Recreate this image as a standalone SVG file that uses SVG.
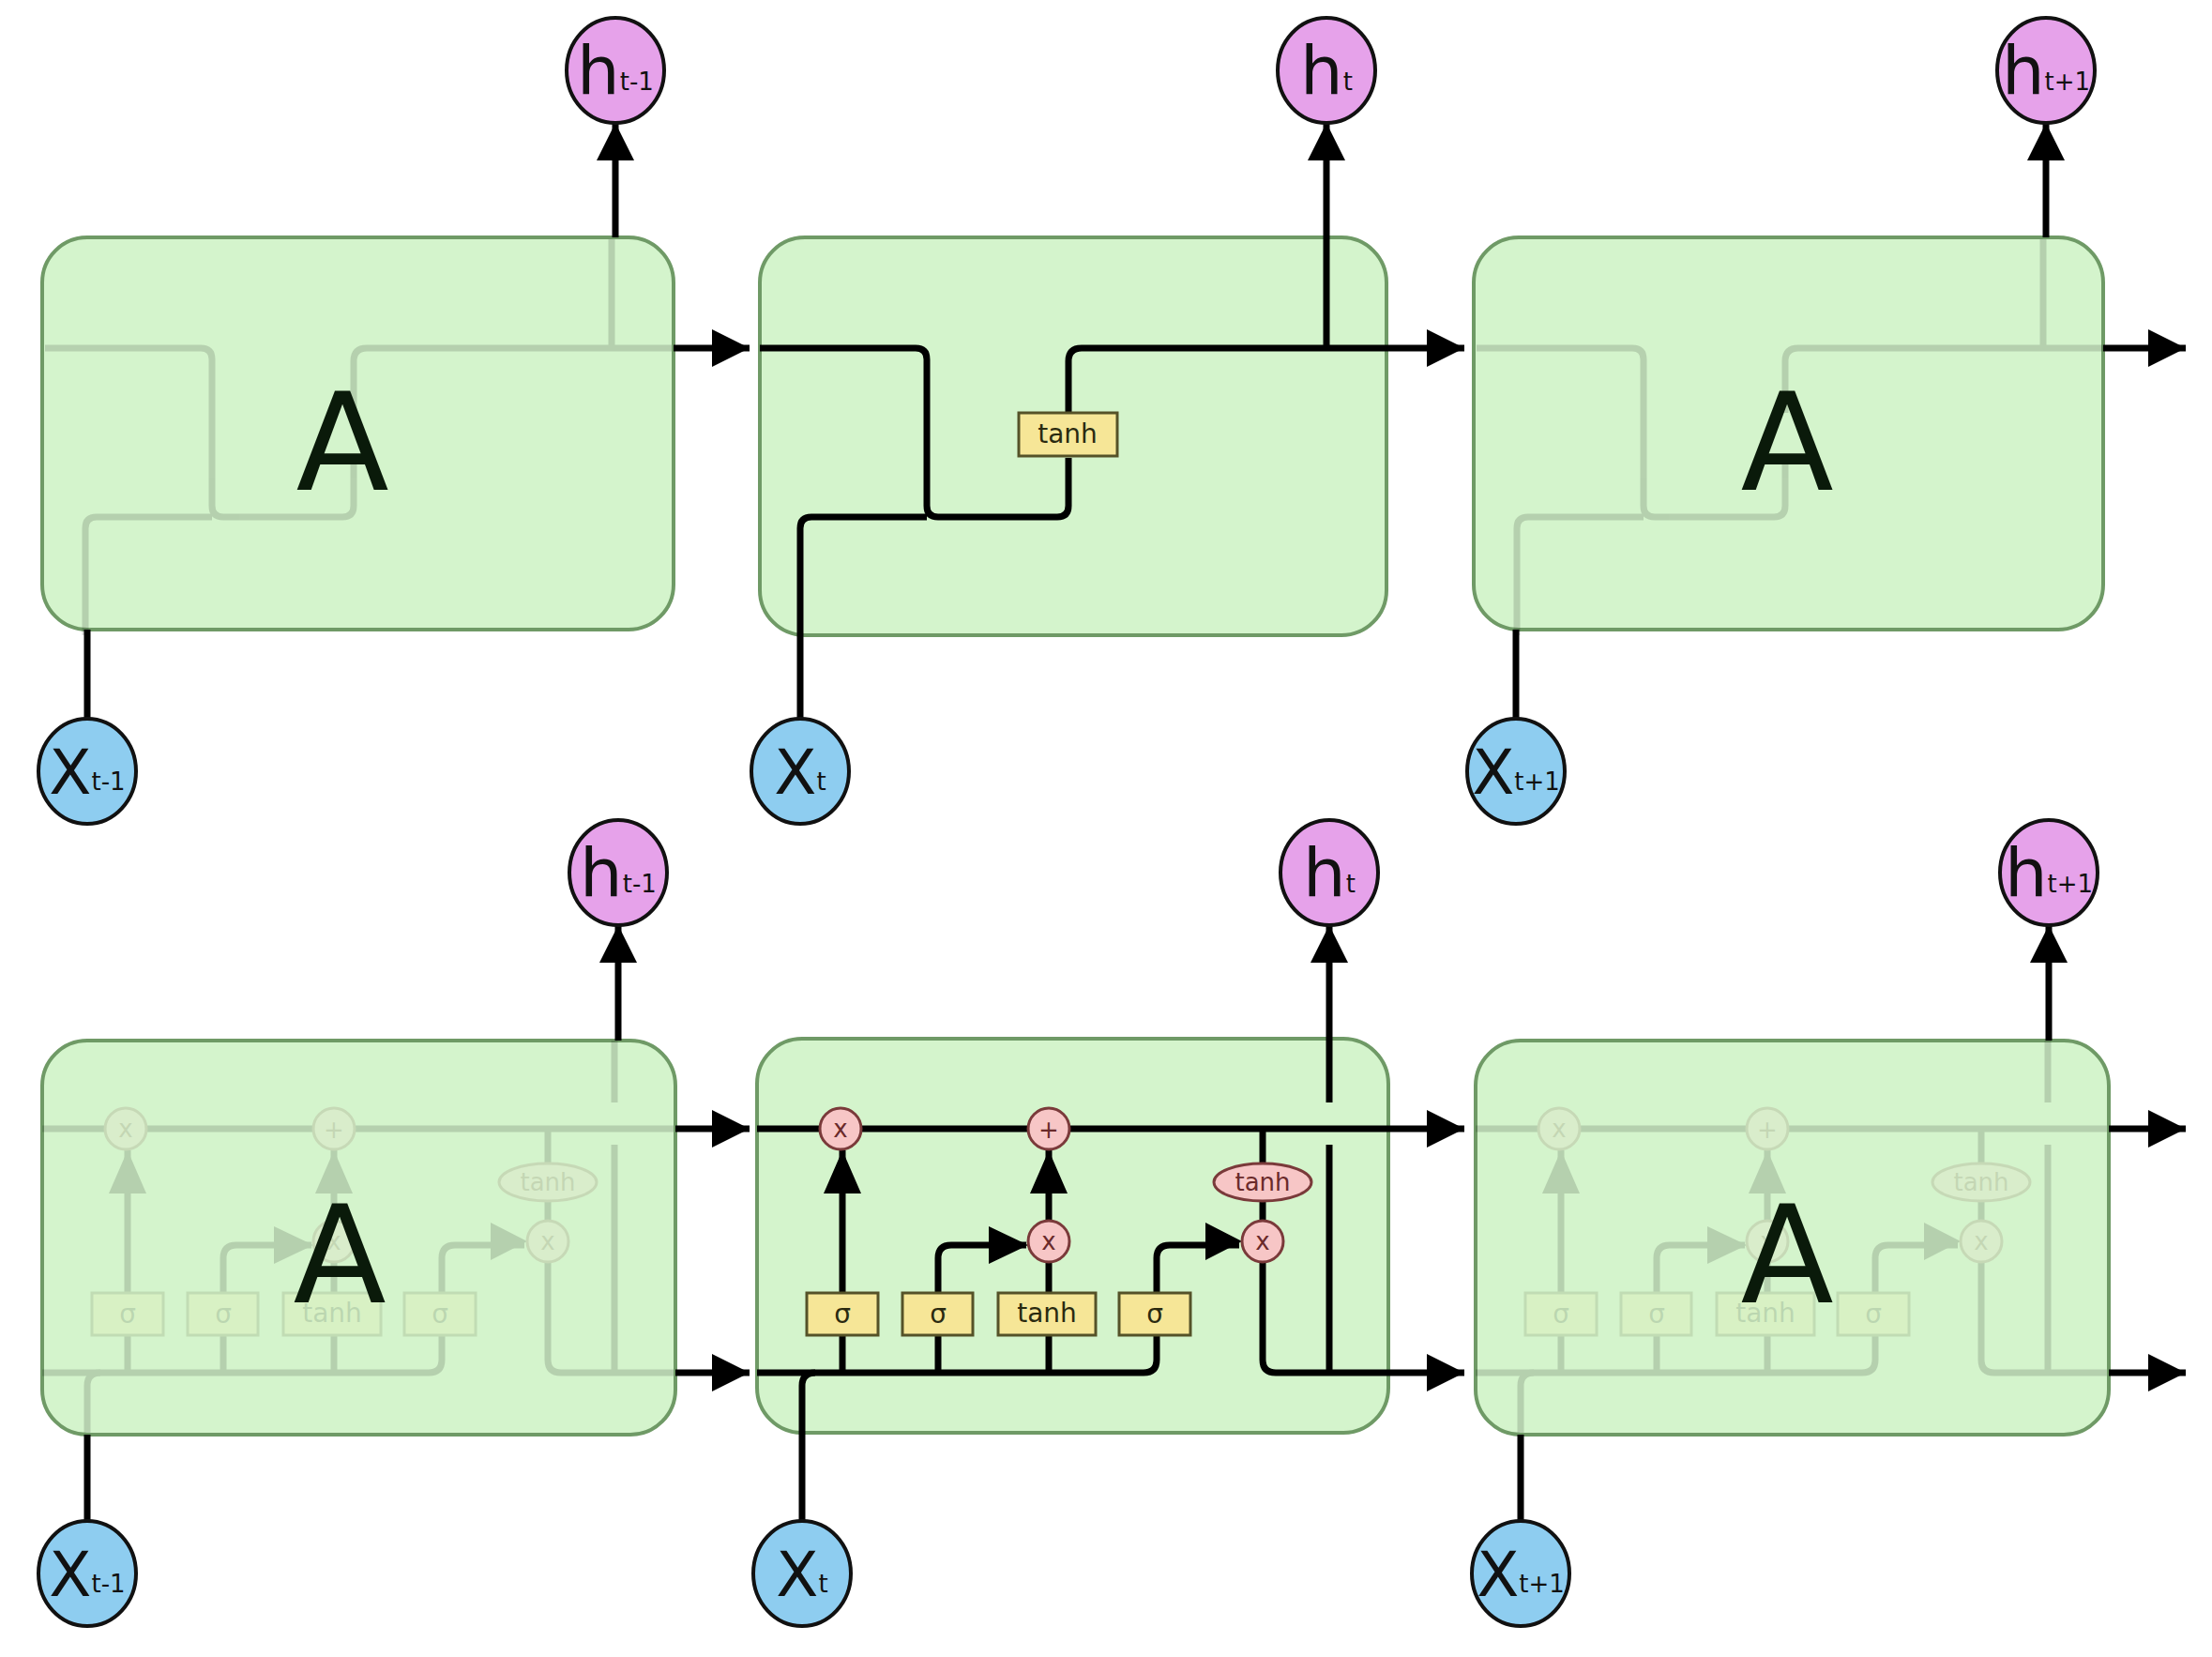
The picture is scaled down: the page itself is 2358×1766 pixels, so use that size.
<svg xmlns="http://www.w3.org/2000/svg" xmlns:xlink="http://www.w3.org/1999/xlink" width="2358" height="1766" viewBox="0 0 2358 1766">
<style>
.box{fill:#d4f4cc;stroke:#6f9a66;stroke-width:4}
.ln{fill:none;stroke:#000;stroke-width:7;stroke-linejoin:round}
.ar{marker-end:url(#ah)}
.hc{fill:#e6a2ea;stroke:#111;stroke-width:4}
.xc{fill:#8ecdf0;stroke:#111;stroke-width:4}
.yb{fill:#f6e697;stroke:#555228;stroke-width:3}
.op{fill:#f7c6c6;stroke:#7a3a3a;stroke-width:3}
.lbl{font-family:"DejaVu Sans",sans-serif;fill:#111;text-anchor:middle}
.big{font-family:"DejaVu Sans",sans-serif;font-size:145px;fill:#0a1a0a;text-anchor:middle}
.sm{font-family:"DejaVu Sans",sans-serif;font-size:28px;fill:#2a2a10;text-anchor:middle}
.opt{font-family:"DejaVu Sans",sans-serif;font-size:26px;fill:#6a2a2a;text-anchor:middle}
.ghost{opacity:0.14}
</style>
<defs>
<marker id="ah" markerUnits="userSpaceOnUse" markerWidth="42" markerHeight="42" refX="40" refY="20" orient="auto" viewBox="0 0 42 42"><path d="M0,0 L40,20 L0,40 z" fill="#000"/></marker>
<g id="topLines">
<path class="ln" d="M810 371 H976 Q988 371 988 383 V539 Q988 551 1000 551 H1127 Q1139 551 1139 539 V488"/>
<path class="ln" d="M853 677 V563 Q853 551 865 551 H988"/>
<path class="ln" d="M1139 440 V385 Q1139 371 1153 371 H1478"/>
<path class="ln" d="M1414 371 V255"/>
</g>
<g id="botCell">
<path class="ln" d="M807 1203 H1480"/>
<path class="ln" d="M807 1463 H1219 Q1233 1463 1233 1449 V1423"/>
<path class="ln" d="M855 1527 V1477 Q855 1463 869 1463"/>
<path class="ln" d="M898 1463 V1378"/>
<path class="ln" d="M898 1378 V1226"/>
<path class="ln" d="M1000 1463 V1423 M1000 1378 V1341 Q1000 1327 1014 1327 H1094"/>
<path class="ln" d="M1118 1463 V1423 M1118 1378 V1345 M1118 1301 V1226"/>
<path class="ln" d="M1233 1378 V1341 Q1233 1327 1247 1327 H1321"/>
<path class="ln" d="M1346 1203 V1240 M1346 1280 V1301 M1346 1345 V1449 Q1346 1463 1360 1463 H1480"/>
<path class="ln" d="M1417 1109 V1175 M1417 1220 V1463"/>
<path d="M878 1272 L898 1226 L918 1272 z M1098 1272 L1118 1226 L1138 1272 z M1054 1307 L1096 1327 L1054 1347 z M1285 1303 L1324 1323 L1285 1343 z"/>
<ellipse class="op" cx="896" cy="1203" rx="22" ry="22"/><text class="opt" x="896" y="1212">x</text>
<ellipse class="op" cx="1118" cy="1203" rx="22" ry="22"/><text class="opt" x="1118" y="1213">+</text>
<ellipse class="op" cx="1118" cy="1323" rx="22" ry="22"/><text class="opt" x="1118" y="1332">x</text>
<ellipse class="op" cx="1346" cy="1323" rx="22" ry="22"/><text class="opt" x="1346" y="1332">x</text>
<ellipse class="op" cx="1346" cy="1260" rx="52" ry="20"/><text class="opt" x="1346" y="1269">tanh</text>
<rect class="yb" x="860" y="1378" width="76" height="45"/><text class="sm" x="898" y="1410" font-size="34">σ</text>
<rect class="yb" x="962" y="1378" width="75" height="45"/><text class="sm" x="1000" y="1410" font-size="34">σ</text>
<rect class="yb" x="1064" y="1378" width="104" height="45"/><text class="sm" x="1116" y="1409">tanh</text>
<rect class="yb" x="1193" y="1378" width="76" height="45"/><text class="sm" x="1231" y="1410" font-size="34">σ</text>
</g>
</defs>
<g id="cell-top-1">
<rect class="box" x="45" y="253" width="673" height="418" rx="48"/>
<use class="ghost" xlink:href="#topLines" href="#topLines" x="-762"/>
<text class="big" x="365" y="522">A</text>
</g>
<g id="cell-top-2">
<rect class="box" x="810" y="253" width="668" height="424" rx="48"/>
<use xlink:href="#topLines" href="#topLines"/>
<rect class="yb" x="1086" y="440" width="105" height="46"/>
<text class="sm" x="1138" y="472">tanh</text>
</g>
<g id="cell-top-3">
<rect class="box" x="1571" y="253" width="671" height="418" rx="48"/>
<use class="ghost" xlink:href="#topLines" href="#topLines" x="764"/>
<text class="big" x="1905" y="522">A</text>
</g>
<g id="cell-bot-1">
<rect class="box" x="45" y="1109" width="675" height="420" rx="48"/>
<use class="ghost" xlink:href="#botCell" href="#botCell" x="-762"/>
<text class="big" x="362" y="1388">A</text>
</g>
<g id="cell-bot-2">
<rect class="box" x="807" y="1107" width="673" height="420" rx="48"/>
<use xlink:href="#botCell" href="#botCell"/>
</g>
<g id="cell-bot-3">
<rect class="box" x="1573" y="1109" width="675" height="420" rx="48"/>
<use class="ghost" xlink:href="#botCell" href="#botCell" x="766"/>
<text class="big" x="1905" y="1388">A</text>
</g>
<g id="connectors">
<path class="ln ar" d="M718 371 H799"/>
<path class="ln ar" d="M1478 371 H1561"/>
<path class="ln ar" d="M2242 371 H2330"/>
<path class="ln ar" d="M656 253 V131"/>
<path class="ln ar" d="M1414 255 V131"/>
<path class="ln ar" d="M2181 253 V131"/>
<path class="ln" d="M93 766 V671 M853 766 V677 M1616 766 V671"/>
<path class="ln ar" d="M720 1203 H799"/>
<path class="ln ar" d="M720 1463 H799"/>
<path class="ln ar" d="M1480 1203 H1561"/>
<path class="ln ar" d="M1480 1463 H1561"/>
<path class="ln ar" d="M2248 1203 H2330"/>
<path class="ln ar" d="M2248 1463 H2330"/>
<path class="ln ar" d="M659 1109 V986"/>
<path class="ln ar" d="M1417 1109 V986"/>
<path class="ln ar" d="M2184 1109 V986"/>
<path class="ln" d="M93 1621 V1529 M855 1621 V1527 M1621 1621 V1529"/>
</g>
<g id="h-top-1"><ellipse class="hc" cx="656" cy="75" rx="52" ry="56"/><text class="lbl" x="656" y="100" font-size="72">h<tspan font-size="26" dy="-4">t-1</tspan></text></g>
<g id="h-top-2"><ellipse class="hc" cx="1414" cy="75" rx="52" ry="56"/><text class="lbl" x="1414" y="100" font-size="72">h<tspan font-size="26" dy="-4">t</tspan></text></g>
<g id="h-top-3"><ellipse class="hc" cx="2181" cy="75" rx="52" ry="56"/><text class="lbl" x="2181" y="100" font-size="72">h<tspan font-size="26" dy="-4">t+1</tspan></text></g>
<g id="x-top-1"><ellipse class="xc" cx="93" cy="822" rx="52" ry="56"/><text class="lbl" x="93" y="846" font-size="66">X<tspan font-size="26" dy="-4">t-1</tspan></text></g>
<g id="x-top-2"><ellipse class="xc" cx="853" cy="822" rx="52" ry="56"/><text class="lbl" x="853" y="846" font-size="66">X<tspan font-size="26" dy="-4">t</tspan></text></g>
<g id="x-top-3"><ellipse class="xc" cx="1616" cy="822" rx="52" ry="56"/><text class="lbl" x="1616" y="846" font-size="66">X<tspan font-size="26" dy="-4">t+1</tspan></text></g>
<g id="h-bot-1"><ellipse class="hc" cx="659" cy="930" rx="52" ry="56"/><text class="lbl" x="659" y="955" font-size="72">h<tspan font-size="26" dy="-4">t-1</tspan></text></g>
<g id="h-bot-2"><ellipse class="hc" cx="1417" cy="930" rx="52" ry="56"/><text class="lbl" x="1417" y="955" font-size="72">h<tspan font-size="26" dy="-4">t</tspan></text></g>
<g id="h-bot-3"><ellipse class="hc" cx="2184" cy="930" rx="52" ry="56"/><text class="lbl" x="2184" y="955" font-size="72">h<tspan font-size="26" dy="-4">t+1</tspan></text></g>
<g id="x-bot-1"><ellipse class="xc" cx="93" cy="1677" rx="52" ry="56"/><text class="lbl" x="93" y="1701" font-size="66">X<tspan font-size="26" dy="-4">t-1</tspan></text></g>
<g id="x-bot-2"><ellipse class="xc" cx="855" cy="1677" rx="52" ry="56"/><text class="lbl" x="855" y="1701" font-size="66">X<tspan font-size="26" dy="-4">t</tspan></text></g>
<g id="x-bot-3"><ellipse class="xc" cx="1621" cy="1677" rx="52" ry="56"/><text class="lbl" x="1621" y="1701" font-size="66">X<tspan font-size="26" dy="-4">t+1</tspan></text></g>
</svg>
